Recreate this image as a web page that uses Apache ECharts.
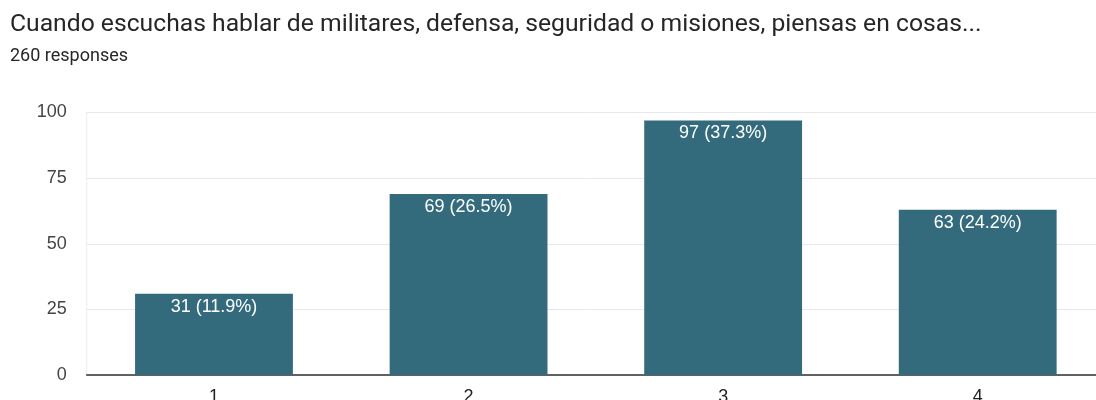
<!DOCTYPE html>
<html><head><meta charset="utf-8">
<script src="https://cdn.jsdelivr.net/npm/echarts@6/dist/echarts.min.js"></script>
<style>html,body{margin:0;padding:0;background:#fff}#c{width:1096px;height:400px}</style>
</head><body><div id="c"></div>
<script>
const categories = ['1', '2', '3', '4'];
const counts = [31, 69, 97, 63];
const percents = ['11.9%', '26.5%', '37.3%', '24.2%'];
const yTicks = [0, 25, 50, 75, 100];

const chart = echarts.init(document.getElementById('c'), null, {renderer: 'canvas'});
chart.setOption({
  animation: false,
  title: {
    text: 'Cuando escuchas hablar de militares, defensa, seguridad o misiones, piensas en cosas...',
    subtext: '260 responses',
    left: 5, top: 7,
    itemGap: 10,
    textStyle: {fontFamily: 'Roboto', fontSize: 24.7, fontWeight: 'normal', color: '#262626'},
    subtextStyle: {fontFamily: 'Roboto', fontSize: 18, color: '#262626'}
  },
  grid: {left: 86.7, right: -9, top: 112.5, bottom: 25, containLabel: false, outerBoundsMode: 'none',
         show: true, borderColor: '#ececec', borderWidth: 1},
  xAxis: {
    type: 'category', data: categories,
    axisLine: {lineStyle: {color: '#333', width: 1.5}},
    axisTick: {show: false},
    axisLabel: {fontFamily: 'Liberation Sans', fontSize: 18, color: '#222', margin: 13}
  },
  yAxis: {
    type: 'value', min: yTicks[0], max: yTicks[yTicks.length-1], interval: 25,
    axisLine: {show: false}, axisTick: {show: false},
    splitLine: {lineStyle: {color: '#e8e8e8', width: 1}},
    axisLabel: {fontFamily: 'Liberation Sans', fontSize: 18, color: '#444', margin: 20}
  },
  series: [{
    type: 'bar',
    data: counts,
    barWidth: '62%',
    itemStyle: {color: '#336b7d'},
    label: {
      show: true, position: 'insideTop', distance: 4,
      fontFamily: 'Liberation Sans', fontSize: 18, color: '#fff',
      formatter: p => counts[p.dataIndex] + ' (' + percents[p.dataIndex] + ')'
    }
  }]
});
</script></body></html>
